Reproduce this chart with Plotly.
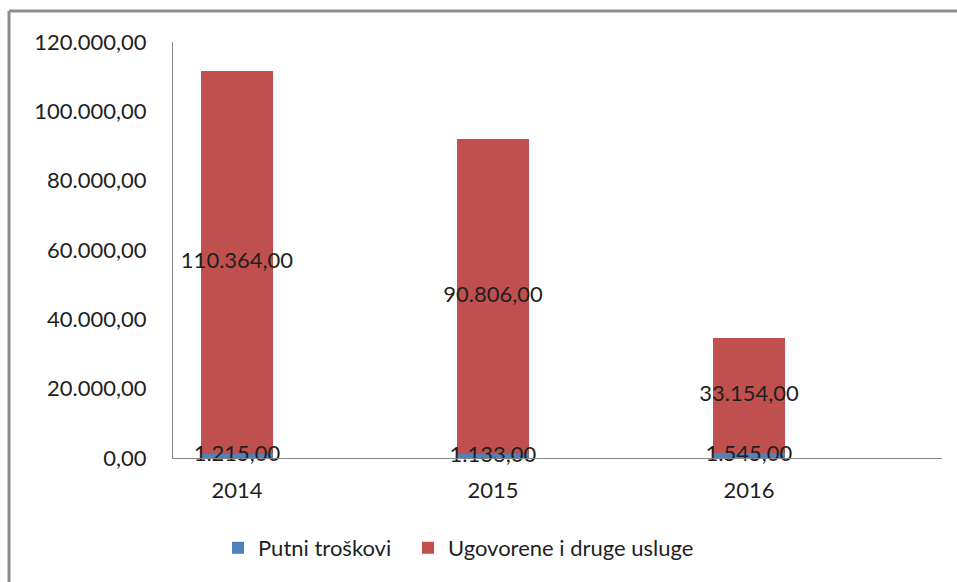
import plotly.graph_objects as go

years = ["2014", "2015", "2016"]
putni = [1215, 1133, 1545]
ugovorene = [110364, 90806, 33154]
series_names = ["Putni troškovi", "Ugovorene i druge usluge"]
colors = ["#4F81BD", "#C0504D"]

FONT = "Lato"
FS = 22
TXT = "#1f1f1f"


def fmt(v):
    s = f"{v:,.2f}"
    return s.replace(",", "X").replace(".", ",").replace("X", ".")


fig = go.Figure()
fig.add_trace(go.Bar(x=years, y=putni, name=series_names[0], marker_color=colors[0],
                     marker_line_width=0, legend="legend"))
fig.add_trace(go.Bar(x=years, y=ugovorene, name=series_names[1], marker_color=colors[1],
                     marker_line_width=0, legend="legend2"))

# data labels
fig.add_trace(go.Scatter(x=years, y=[p / 2 for p in putni], mode="text",
                         text=[fmt(p) for p in putni], textposition="middle center",
                         textfont=dict(family=FONT, size=FS, color=TXT),
                         showlegend=False, cliponaxis=False, hoverinfo="skip"))
fig.add_trace(go.Scatter(x=years, y=[p + u / 2 for p, u in zip(putni, ugovorene)], mode="text",
                         text=[fmt(u) for u in ugovorene], textposition="middle center",
                         textfont=dict(family=FONT, size=FS, color=TXT),
                         showlegend=False, cliponaxis=False, hoverinfo="skip"))

W, H = 957, 582
L, R, T, B = 173, 15, 42, 124
pw, ph = W - L - R, H - T - B

bx = (9 - L) / pw
by = 1 + (T - 11) / ph
leg_y = -(548 - 458) / ph

leg_common = dict(orientation="h", xanchor="left", y=leg_y, yanchor="middle",
                  font=dict(family=FONT, size=FS, color=TXT), itemwidth=30,
                  bgcolor="rgba(0,0,0,0)")

fig.update_layout(
    width=W, height=H,
    margin=dict(l=L, r=R, t=T, b=B, pad=0),
    barmode="stack",
    bargap=0.715,
    separators=",.",
    paper_bgcolor="white",
    plot_bgcolor="white",
    font=dict(family=FONT, size=FS, color=TXT),
    legend=dict(x=(218 - L) / pw, **leg_common),
    legend2=dict(x=(408 - L) / pw, **leg_common),
    xaxis=dict(type="category", range=[-0.25, 2.754], showline=True,
               linecolor="#868686", linewidth=1,
               ticks="", showgrid=False, zeroline=False, ticklabelstandoff=13),
    yaxis=dict(range=[0, 120000], dtick=20000, tickformat=",.2f", showline=True,
               linecolor="#868686", linewidth=1, ticks="", showgrid=False,
               zeroline=False, ticklabelstandoff=21),
    shapes=[
        dict(type="line", xref="paper", yref="paper", x0=bx, x1=bx, y0=by, y1=-0.5,
             line=dict(color="#8c8c8c", width=3), layer="below"),
        dict(type="line", xref="paper", yref="paper", x0=bx, x1=1.1, y0=by, y1=by,
             line=dict(color="#8c8c8c", width=3), layer="below"),
    ],
)

fig.write_html("out.html", config={"displayModeBar": False},
               post_script="document.body.style.margin='0';document.body.style.padding='0';")
